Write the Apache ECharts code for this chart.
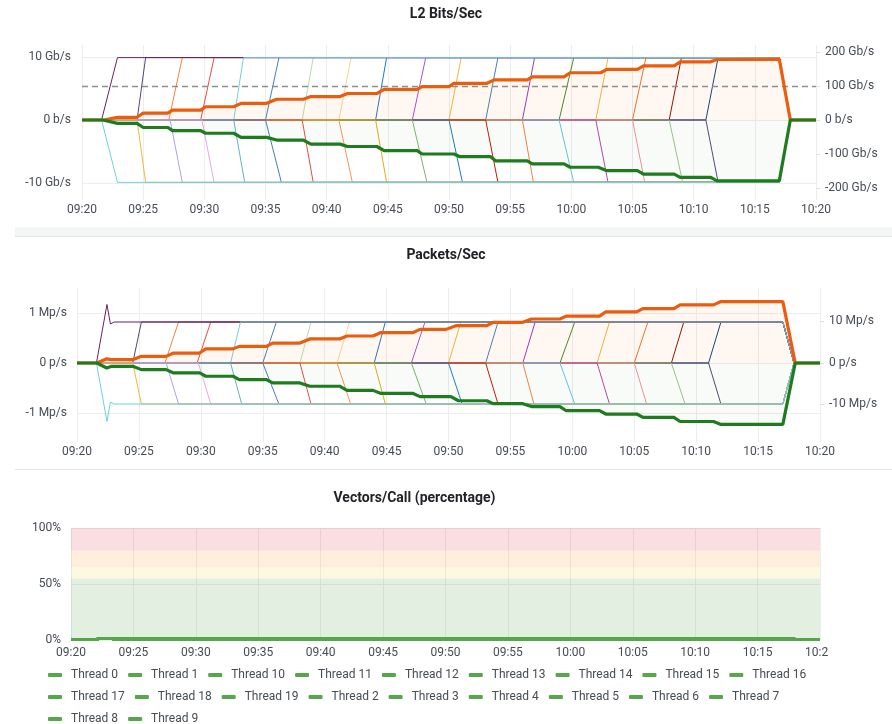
<!DOCTYPE html>
<html>
<head>
<meta charset="utf-8">
<script src="https://cdn.jsdelivr.net/npm/echarts@6/dist/echarts.min.js"></script>
<style>
  html, body { margin: 0; padding: 0; background: #fff; width: 892px; height: 724px; overflow: hidden; position: relative; }
  .chart { position: absolute; left: 0; }
  #sep1 { position: absolute; left: 15px; right: 0; top: 227px; height: 9px; background: #f4f5f5; border-bottom: 1px solid #e3e4e6; }
  #sep2 { position: absolute; left: 15px; right: 0; top: 469px; height: 1px; background: #e3e4e6; }
</style>
</head>
<body>
<div id="c1" class="chart" style="top:0;width:892px;height:227px"></div>
<div id="sep1"></div>
<div id="c2" class="chart" style="top:237px;width:892px;height:232px"></div>
<div id="sep2"></div>
<div id="c3" class="chart" style="top:471px;width:829px;height:253px"></div>
<script>
const X_LABELS = ['09:20', '09:25', '09:30', '09:35', '09:40', '09:45', '09:50',
  '09:55', '10:00', '10:05', '10:10', '10:15', '10:20'];

// arranque de cada hilo: inicio y fin de la subida (rx) / bajada (tx)
const RX_START = [1.6, 4.5, 7.1, 9.7, 12.4, 15.0, 18.0, 21.0, 24.0, 27.0, 30.0, 33.0, 36.0, 39.0, 42.0, 45.0, 48.0, 51.0];
const RX_END   = [2.9, 5.2, 8.2, 10.8, 13.2, 16.1, 18.9, 22.0, 24.9, 28.1, 31.0, 34.0, 37.0, 40.2, 43.0, 46.1, 49.0, 52.0];
const TX_START = [1.6, 4.5, 7.2, 9.8, 12.4, 15.0, 18.0, 21.0, 24.0, 27.0, 30.0, 33.0, 36.0, 39.0, 42.0, 45.0, 48.0, 51.0];
const TX_END   = [2.9, 5.2, 8.2, 10.8, 13.3, 16.3, 18.9, 22.1, 24.9, 28.2, 31.1, 34.0, 36.9, 40.2, 43.0, 46.0, 49.1, 52.0];
const STOP = [57.0, 57.9];          // todos los hilos vuelven a 0
const BIT_LEVEL = 9.9;              // Gb/s por hilo
const PKT_LEVEL = 0.82;             // Mp/s por hilo
const PKT_FIRST_RX = [[1.57, 0], [2.42, 1.17], [2.7, 0.78], [3.0, 0.82]];
const PKT_FIRST_TX = [[1.57, 0], [2.42, -1.17], [2.7, -0.78], [3.0, -0.82]];

const RX_COLORS = ['#6d1f62', '#584477', '#ef843c', '#e24d42', '#6ed0e0', '#447ebc', '#b7dbab', '#f4d598', '#1f78c1',
  '#a352cc', '#eab839', '#447ebc', '#8f3bb8', '#3f8a2e', '#eab839', '#e0752d', '#890f02', '#0a437c'];
const TX_COLORS = ['#6ed0e0', '#eab839', '#aea2e0', '#e5a8e2', '#64b0c8', '#447ebc', '#e24d42', '#f9934e', '#e5ac0e',
  '#7eb26d', '#1f78c1', '#bf1b00', '#ef843c', '#65c5db', '#ba43a9', '#f29191', '#9ac48a', '#584477'];

const BITS_RX_TOTAL = [[0, 0], [1.8, 0], [2.9, 8], [4.5, 8], [5.0, 20], [7.0, 20], [7.4, 29], [9.7, 29], [10.1, 39],
  [12.4, 39], [13.0, 49], [15.1, 49], [15.9, 61], [18.1, 61], [18.7, 69], [21.1, 69], [21.7, 78], [24.1, 78],
  [24.7, 90], [27.4, 90], [27.8, 98], [30.0, 98], [30.4, 108], [33.1, 108], [33.7, 118], [36.4, 118], [36.8, 127],
  [39.4, 127], [39.9, 139], [42.4, 139], [42.9, 149], [45.4, 149], [45.9, 159], [48.4, 159], [48.9, 171],
  [51.4, 171], [51.9, 178], [57.0, 179], [57.9, 0], [60, 0]];
const BITS_TX_TOTAL = [[0, 0], [1.7, 0], [2.9, -10], [4.5, -10], [5.0, -22], [7.0, -22], [7.4, -31], [9.7, -31],
  [10.1, -39], [12.4, -39], [13.0, -51], [15.1, -51], [15.9, -59], [18.1, -59], [18.7, -71], [21.1, -71],
  [21.7, -78], [24.1, -78], [24.7, -90], [27.4, -90], [27.8, -100], [30.4, -100], [30.9, -108], [33.4, -108],
  [33.8, -120], [36.4, -120], [36.8, -129], [39.4, -129], [39.9, -139], [42.2, -139], [42.9, -149], [45.4, -149],
  [45.9, -159], [48.4, -159], [48.9, -169], [51.4, -169], [51.9, -179], [57.0, -179], [57.9, 0], [60, 0]];
const PKT_RX_TOTAL = [[0, 0], [1.6, 0], [2.4, 1.0], [2.8, 0.8], [4.5, 0.8], [5.2, 1.6], [7.2, 1.6], [7.8, 2.4],
  [9.9, 2.4], [10.4, 3.4], [12.6, 3.4], [13.1, 4.0], [15.3, 4.0], [15.8, 4.8], [18.0, 4.8], [18.8, 5.8],
  [21.2, 5.8], [21.8, 6.5], [23.9, 6.5], [24.5, 7.3], [27.1, 7.3], [27.7, 8.1], [29.8, 8.1], [30.6, 9.0],
  [33.1, 9.0], [33.6, 9.8], [36.0, 9.8], [36.7, 10.6], [39.0, 10.6], [39.5, 11.3], [42.2, 11.3], [42.7, 12.3],
  [45.2, 12.3], [45.7, 13.1], [48.2, 13.1], [48.7, 14.0], [51.4, 14.0], [52.0, 14.8], [57.0, 14.8], [58.0, 0], [60, 0]];
const PKT_TX_TOTAL = [[0, 0], [1.6, 0], [2.4, -1.2], [2.8, -0.8], [4.5, -0.8], [5.2, -1.6], [7.2, -1.6], [7.8, -2.4],
  [9.9, -2.4], [10.4, -3.2], [12.6, -3.2], [13.1, -4.0], [15.3, -4.0], [15.8, -4.8], [18.0, -4.8], [18.8, -5.6],
  [21.2, -5.6], [21.8, -6.6], [23.9, -6.6], [24.5, -7.3], [27.1, -7.3], [27.7, -8.1], [30.2, -8.1], [30.8, -9.1],
  [33.1, -9.1], [33.6, -9.8], [36.0, -9.8], [36.7, -10.5], [39.0, -10.5], [39.5, -11.5], [42.2, -11.5],
  [42.7, -12.3], [45.2, -12.3], [45.7, -13.1], [48.2, -13.1], [48.7, -14.1], [51.4, -14.1], [52.0, -14.8],
  [57.0, -14.8], [58.0, 0], [60, 0]];

const THREADS = ['Thread 0', 'Thread 1', 'Thread 10', 'Thread 11', 'Thread 12', 'Thread 13', 'Thread 14',
  'Thread 15', 'Thread 16', 'Thread 17', 'Thread 18', 'Thread 19', 'Thread 2', 'Thread 3', 'Thread 4',
  'Thread 5', 'Thread 6', 'Thread 7', 'Thread 8', 'Thread 9'];
const VPC = [[0, 0.2], [1.9, 0.2], [2.3, 1.4], [3.1, 1.4], [3.4, 0.8], [58.0, 0.8], [58.2, 0.2], [60, 0.2]];
const THRESH_STEPS = [0, 55, 65, 80, 100];
const THRESH_COLORS = ['rgba(86,166,75,0.17)', 'rgba(242,204,12,0.12)', 'rgba(255,152,48,0.17)', 'rgba(224,47,68,0.16)'];

// ---- estilo ----
const TXT = '#464c54';
const GRID = '#eceded';
const ORANGE = '#ea5c0e';
const GREEN = '#1e7b1e';

const xLabel = v => X_LABELS[Math.round(v / 5)];
const unit = (u, zero) => v => (v === 0 ? zero : v + ' ' + u);

function xAxis(margin) {
  return {
    type: 'value', min: 0, max: 60, interval: 5,
    axisLine: { show: false }, axisTick: { show: false },
    axisLabel: { formatter: xLabel, color: TXT, fontSize: 12, margin },
    splitLine: { show: true, lineStyle: { color: GRID } },
  };
}
function yAxis(pos, min, max, ticks, fmt, margin, grid) {
  return {
    type: 'value', position: pos, min, max,
    axisLine: { show: false },
    axisTick: { show: pos === 'right', length: 4, customValues: ticks, lineStyle: { color: '#dcdddf' } },
    axisLabel: { customValues: ticks, formatter: fmt, color: TXT, fontSize: 12, margin },
    splitLine: { show: grid, lineStyle: { color: GRID } },
  };
}
function title(text, top) {
  return { text, left: 'center', top, textStyle: { fontSize: 14, fontWeight: 'bold', color: '#202226' } };
}

function threadPath(i, start, end, level, head) {
  const pts = head || [[start[i], 0], [end[i], level]];
  return [[0, 0], ...pts, [STOP[0], level], [STOP[1], 0], [60, 0]];
}
function threadLine(data, color) {
  return { type: 'line', data, symbol: 'none', lineStyle: { width: 1, color }, itemStyle: { color }, z: 2 };
}
function totalLine(data, color, fill) {
  return {
    type: 'line', yAxisIndex: 1, data, symbol: 'none', z: 5,
    lineStyle: { width: 3.2, color }, itemStyle: { color }, areaStyle: { color: fill },
  };
}
// orden de dibujo: los primeros hilos quedan encima
const RX_ORDER = [17, 16, 15, 14, 13, 12, 11, 10, 9, 8, 7, 6, 5, 3, 2, 1, 0, 4];
const TX_ORDER = [17, 16, 15, 14, 13, 12, 11, 10, 9, 8, 7, 6, 5, 4, 3, 2, 1, 0];

function threadSeries(level, firstRx, firstTx) {
  const out = [];
  RX_ORDER.forEach(i => out.push(threadLine(
    threadPath(i, RX_START, RX_END, level, i === 0 ? firstRx : null), RX_COLORS[i])));
  TX_ORDER.forEach(i => out.push(threadLine(
    threadPath(i, TX_START, TX_END, -level, i === 0 ? firstTx : null), TX_COLORS[i])));
  return out;
}

// ---- L2 Bits/Sec ----
const c1 = echarts.init(document.getElementById('c1'));
const bitsRx = totalLine(BITS_RX_TOTAL, ORANGE, 'rgba(250,100,0,0.07)');
bitsRx.markLine = {
  silent: true, symbol: 'none', label: { show: false },
  lineStyle: { color: '#8e8e8e', type: [6, 4], width: 1.3 },
  data: [{ yAxis: 100 }],
};
c1.setOption({
  animation: false,
  textStyle: { fontFamily: 'Roboto' },
  title: title('L2 Bits/Sec', 2),
  grid: { left: 82, right: 76, top: 45, bottom: 27, outerBoundsMode: 'none' },
  xAxis: xAxis(4),
  yAxis: [
    yAxis('left', -12.7, 11.9, [-10, 0, 10], unit('Gb/s', '0 b/s'), 11, true),
    yAxis('right', -235.3, 220.6, [-200, -100, 0, 100, 200], unit('Gb/s', '0 b/s'), 9, false),
  ],
  series: [...threadSeries(BIT_LEVEL), bitsRx,
    totalLine(BITS_TX_TOTAL, GREEN, 'rgba(55,135,45,0.05)')],
});

// ---- Packets/Sec ----
const c2 = echarts.init(document.getElementById('c2'));
c2.setOption({
  animation: false,
  textStyle: { fontFamily: 'Roboto' },
  title: title('Packets/Sec', 6),
  grid: { left: 77, right: 72, top: 51, bottom: 27, outerBoundsMode: 'none' },
  xAxis: xAxis(4),
  yAxis: [
    yAxis('left', -1.58, 1.5, [-1, 0, 1], unit('Mp/s', '0 p/s'), 10, true),
    yAxis('right', -19.04, 18.07, [-10, 0, 10], unit('Mp/s', '0 p/s'), 9, false),
  ],
  series: [...threadSeries(PKT_LEVEL, PKT_FIRST_RX, PKT_FIRST_TX),
    totalLine(PKT_RX_TOTAL, ORANGE, 'rgba(250,100,0,0.07)'),
    totalLine(PKT_TX_TOTAL, GREEN, 'rgba(55,135,45,0.05)')],
});

// ---- Vectors/Call (percentage) ----
const c3 = echarts.init(document.getElementById('c3'));
const vpcSeries = THREADS.map((name, i) => ({
  name, type: 'line', data: VPC, symbol: 'none',
  lineStyle: { width: 2.5, color: '#56a64b' }, itemStyle: { color: '#56a64b' },
  markArea: i === 0 ? {
    silent: true,
    data: THRESH_COLORS.map((c, k) => [{ yAxis: THRESH_STEPS[k], itemStyle: { color: c } }, { yAxis: THRESH_STEPS[k + 1] }]),
  } : undefined,
}));
c3.setOption({
  animation: false,
  textStyle: { fontFamily: 'Roboto' },
  title: title('Vectors/Call (percentage)', 15),
  grid: { left: 71, right: 9, top: 57, height: 112, outerBoundsMode: 'none' },
  xAxis: xAxis(7),
  yAxis: {
    type: 'value', min: 0, max: 100, interval: 50,
    axisLine: { show: false }, axisTick: { show: false },
    axisLabel: { formatter: v => v + '%', color: TXT, fontSize: 12, margin: 10 },
    splitLine: { show: true, lineStyle: { color: GRID } },
  },
  legend: {
    data: THREADS, left: 43, top: 193, width: 780, icon: 'roundRect',
    itemWidth: 14, itemHeight: 4, itemGap: 10,
    textStyle: { color: TXT, fontSize: 12, padding: [0, 0, 0, 4], lineHeight: 11 },
  },
  series: vpcSeries,
});
</script>
</body>
</html>
